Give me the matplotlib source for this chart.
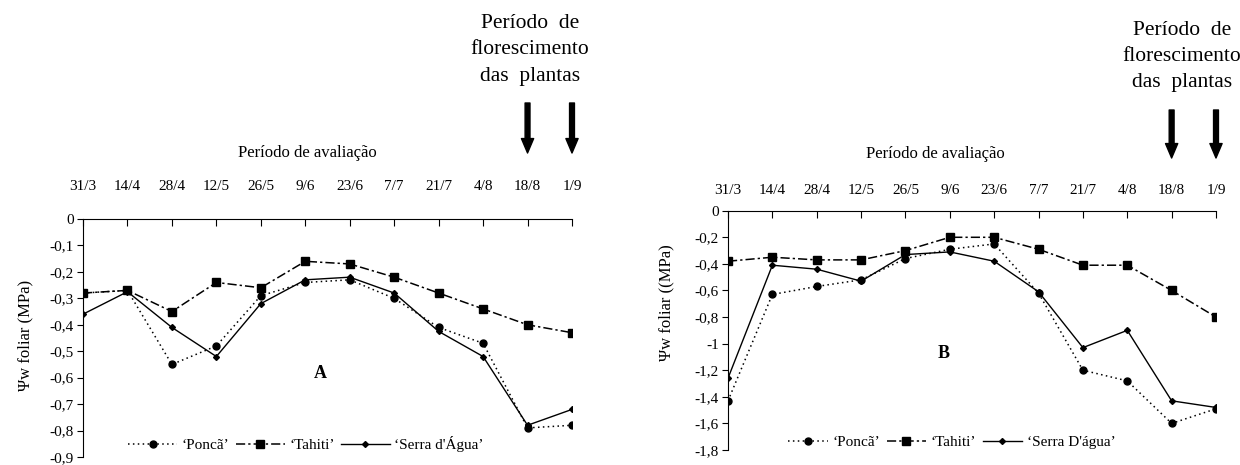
import matplotlib
matplotlib.use('Agg')
import matplotlib.pyplot as plt
import matplotlib.transforms as mtrans

plt.rcParams['font.family'] = ['Liberation Serif', 'DejaVu Serif']
plt.rcParams['font.size'] = 11

datas = ['31/3', '14/4', '28/4', '12/5', '26/5', '9/6', '23/6', '7/7', '21/7', '4/8', '18/8', '1/9']

# painel A
poncaA = [-0.28, -0.27, -0.55, -0.48, -0.29, -0.24, -0.23, -0.30, -0.41, -0.47, -0.79, -0.78]
tahitiA = [-0.28, -0.27, -0.35, -0.24, -0.26, -0.16, -0.17, -0.22, -0.28, -0.34, -0.40, -0.43]
serraA = [-0.36, -0.275, -0.41, -0.52, -0.32, -0.23, -0.22, -0.28, -0.425, -0.52, -0.78, -0.72]
yticksA = [0, -0.1, -0.2, -0.3, -0.4, -0.5, -0.6, -0.7, -0.8, -0.9]
ylabA = ['0', '-0,1', '-0,2', '-0,3', '-0,4', '-0,5', '-0,6', '-0,7', '-0,8', '-0,9']

# painel B
poncaB = [-1.43, -0.63, -0.57, -0.52, -0.36, -0.29, -0.25, -0.62, -1.20, -1.28, -1.60, -1.49]
tahitiB = [-0.38, -0.35, -0.37, -0.37, -0.30, -0.20, -0.20, -0.29, -0.41, -0.41, -0.60, -0.80]
serraB = [-1.26, -0.41, -0.44, -0.53, -0.33, -0.31, -0.38, -0.61, -1.03, -0.90, -1.43, -1.48]
yticksB = [0, -0.2, -0.4, -0.6, -0.8, -1.0, -1.2, -1.4, -1.6, -1.8]
ylabB = ['0', '-0,2', '-0,4', '-0,6', '-0,8', '-1', '-1,2', '-1,4', '-1,6', '-1,8']

W, H = 1240, 465
fig = plt.figure(figsize=(W / 100, H / 100), dpi=100)


def px(x0, y0, x1, y1):
    return [x0 / W, 1 - y1 / H, (x1 - x0) / W, (y1 - y0) / H]


def painel(rect, ponca, tahiti, serra, yt, yl, ymin, pad):
    ax = fig.add_axes(rect)
    x = list(range(len(datas)))
    l1, = ax.plot(x, ponca, color='black', lw=1.1, ls=(0, (1, 2.2)), marker='o', ms=5)
    l2, = ax.plot(x, tahiti, color='black', lw=1.1, ls=(0, (6, 2, 1.5, 2)), marker='s', ms=5.5)
    l3, = ax.plot(x, serra, color='black', lw=1.0, ls='-', marker='D', ms=3)
    ax.set_xlim(0, 11)
    ax.set_ylim(ymin, 0)
    ax.set_xticks(x)
    ax.set_xticklabels(datas, fontsize=11)
    ax.xaxis.tick_top()
    ax.tick_params(axis='x', direction='in', length=5, width=0.8, pad=pad)
    ax.set_yticks(yt)
    ax.set_yticklabels(yl, fontsize=11)
    ax.tick_params(axis='y', direction='out', length=4.5, width=0.8, pad=2)
    ax.spines['right'].set_visible(False)
    ax.spines['bottom'].set_visible(False)
    ax.spines['top'].set_linewidth(0.8)
    ax.spines['left'].set_linewidth(0.8)
    ax.patch.set_alpha(0)
    return ax, [l1, l2, l3]


axA, linhasA = painel(px(83, 219, 572, 457), poncaA, tahitiA, serraA, yticksA, ylabA, -0.9, 19)
axB, linhasB = painel(px(728, 210.7, 1216, 450), poncaB, tahitiB, serraB, yticksB, ylabB, -1.8, 10)

fig.legend(linhasA, ["\u2018Poncã\u2019", "\u2018Tahiti\u2019", "\u2018Serra d'Água\u2019"],
           loc='center', bbox_to_anchor=(306 / W, 1 - 444 / H), ncol=3, frameon=False,
           fontsize=11, handlelength=3.2, handletextpad=0.3, columnspacing=0.4)
fig.legend(linhasB, ["\u2018Poncã\u2019", "\u2018Tahiti\u2019", "\u2018Serra D'água\u2019"],
           loc='center', bbox_to_anchor=(952 / W, 1 - 442 / H), ncol=3, frameon=False,
           fontsize=11, handlelength=2.6, handletextpad=0.3, columnspacing=0.4)

fig.text(25 / W, 1 - 335 / H, 'Ψw foliar (MPa)', rotation=90, ha='center', va='center', fontsize=12)
fig.text(666 / W, 1 - 303 / H, 'Ψw foliar ((MPa)', rotation=90, ha='center', va='center', fontsize=12)

fig.text(320 / W, 1 - 373 / H, 'A', ha='center', va='center', fontsize=13, fontweight='bold')
fig.text(944 / W, 1 - 353 / H, 'B', ha='center', va='center', fontsize=13, fontweight='bold')

fig.text(307 / W, 1 - 153 / H, 'Período de avaliação', ha='center', va='center', fontsize=12)
fig.text(935 / W, 1 - 154 / H, 'Período de avaliação', ha='center', va='center', fontsize=12)

fig.text(530 / W, 1 - 50 / H, 'Período  de\nflorescimento\ndas  plantas', ha='center', va='center',
         fontsize=15.5, linespacing=1.55)
fig.text(1182 / W, 1 - 56 / H, 'Período  de\nflorescimento\ndas  plantas', ha='center', va='center',
         fontsize=15.5, linespacing=1.5)

# setas de florescimento
for ax, y0, y1 in [(axA, 103, 153), (axB, 110, 158)]:
    tr = mtrans.blended_transform_factory(ax.transData, fig.transFigure)
    for xi in [10, 11]:
        ax.annotate('', xy=(xi, 1 - y1 / H), xytext=(xi, 1 - y0 / H), xycoords=tr, textcoords=tr,
                    annotation_clip=False,
                    arrowprops=dict(arrowstyle='simple,head_length=0.65,head_width=0.55,tail_width=0.22',
                                    fc='black', ec='black', mutation_scale=16, shrinkA=0, shrinkB=0))

fig.savefig('out.png', dpi=100)
